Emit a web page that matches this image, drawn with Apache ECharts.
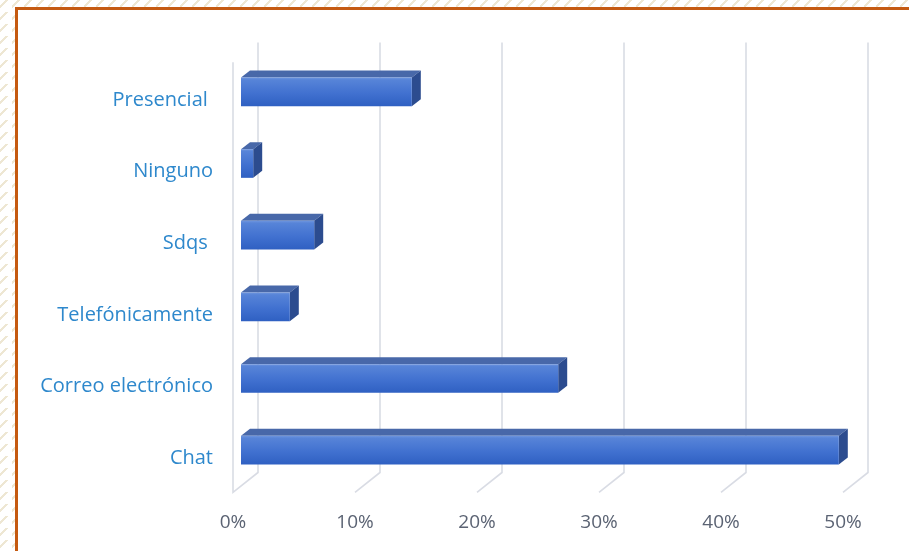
<!DOCTYPE html>
<html>
<head>
<meta charset="utf-8">
<script src="https://cdn.jsdelivr.net/npm/echarts@6/dist/echarts.min.js"></script>
<style>
  html, body { margin: 0; padding: 0; width: 909px; height: 551px; overflow: hidden; }
  body {
    background-color: #ffffff;
    background-image: linear-gradient(135deg, transparent 22%, #eee7d3 22%, #eee7d3 34%, transparent 34%);
    background-size: 12px 12px;
  }
  #frame {
    position: absolute; left: 15px; top: 7px; width: 920px; height: 560px;
    border-top: 3px solid #c55a11; border-left: 3px solid #c55a11;
    background: #ffffff;
  }
  #chart { position: absolute; left: 0; top: 0; width: 909px; height: 551px; }
</style>
</head>
<body>
<div id="frame"></div>
<div id="chart"></div>
<script>
// Canales de atención (porcentaje de respuestas), de arriba hacia abajo
const categories = ['Presencial ', 'Ninguno', 'Sdqs ', 'Telefónicamente', 'Correo electrónico', 'Chat'];
const values = [14, 1, 6, 4, 26, 49];
const ticks = [0, 10, 20, 30, 40, 50];

// Perspective offsets for the pseudo-3D look (pixels)
const BAR_DEPTH = [9, -7];      // bar top/side faces
const BACK_WALL = [17, -13.5];  // back wall relative to bar plane
const FRONT_EDGE = [-8, 6.3];   // floor front edge relative to bar plane

const chart = echarts.init(document.getElementById('chart'), null, { renderer: 'canvas' });

function renderBar(params, api) {
  const cat = api.value(1);
  const v = api.value(0);
  const start = api.coord([0, cat]);
  const end = api.coord([v, cat]);
  const band = api.size([0, 1])[1];
  const h = band * 0.4;
  const x0 = start[0], x1 = end[0];
  const top = start[1] - h / 2, bot = start[1] + h / 2;
  const dx = BAR_DEPTH[0], dy = BAR_DEPTH[1];
  return {
    type: 'group',
    children: [
      {
        type: 'polygon',
        shape: { points: [[x0, top], [x1, top], [x1 + dx, top + dy], [x0 + dx, top + dy]] },
        style: { fill: '#4868a9' }
      },
      {
        type: 'polygon',
        shape: { points: [[x1, top], [x1 + dx, top + dy], [x1 + dx, bot + dy], [x1, bot]] },
        style: { fill: '#2c4c8f' }
      },
      {
        type: 'rect',
        shape: { x: x0, y: top, width: x1 - x0, height: h },
        style: {
          fill: new echarts.graphic.LinearGradient(0, 0, 0, 1, [
            { offset: 0, color: '#6e95de' },
            { offset: 0.08, color: '#5784d8' },
            { offset: 0.55, color: '#4171d0' },
            { offset: 1, color: '#2f60c2' }
          ])
        }
      }
    ]
  };
}

function renderGridLine(params, api) {
  const v = api.value(0);
  const cs = params.coordSys;
  const x = api.coord([v, 0])[0];
  const top = cs.y, bot = cs.y + cs.height;
  const pts = [
    [x + BACK_WALL[0], top + BACK_WALL[1]],
    [x + BACK_WALL[0], bot + BACK_WALL[1]],
    [x + FRONT_EDGE[0], bot + FRONT_EDGE[1]]
  ];
  if (v === ticks[0]) {
    pts.push([x + FRONT_EDGE[0], top + FRONT_EDGE[1]]);
  }
  return {
    type: 'polyline',
    shape: { points: pts },
    style: { stroke: '#d9dce4', lineWidth: 1.6, fill: null }
  };
}

chart.setOption({
  animation: false,
  backgroundColor: 'transparent',
  grid: { left: 241, right: 58, top: 56, bottom: 65, containLabel: false },
  xAxis: {
    type: 'value',
    min: ticks[0],
    max: ticks[ticks.length - 1],
    interval: 10,
    axisLine: { show: false },
    axisTick: { show: false },
    splitLine: { show: false },
    axisLabel: {
      formatter: '{value}%',
      color: '#5b6373',
      fontFamily: 'Open Sans',
      fontSize: 19,
      margin: 27,
      padding: [0, 16, 0, 0]
    }
  },
  yAxis: {
    type: 'category',
    data: categories,
    inverse: true,
    axisLine: { show: false },
    axisTick: { show: false },
    splitLine: { show: false },
    axisLabel: {
      margin: 28,
      formatter: function (v) { return '{c|' + v + '}'; },
      rich: {
        c: {
          color: '#2e88cc',
          fontFamily: 'Open Sans',
          fontSize: 20,
          padding: [16, 0, 0, 0]
        }
      }
    }
  },
  series: [
    {
      type: 'custom',
      name: 'grid',
      renderItem: renderGridLine,
      data: ticks.map(t => [t, 0]),
      encode: { x: 0, y: 1 },
      silent: true,
      z: 1
    },
    {
      type: 'custom',
      name: 'Canal',
      renderItem: renderBar,
      data: values.map((v, i) => [v, i]),
      encode: { x: 0, y: 1 },
      z: 2
    }
  ]
});
</script>
</body>
</html>
